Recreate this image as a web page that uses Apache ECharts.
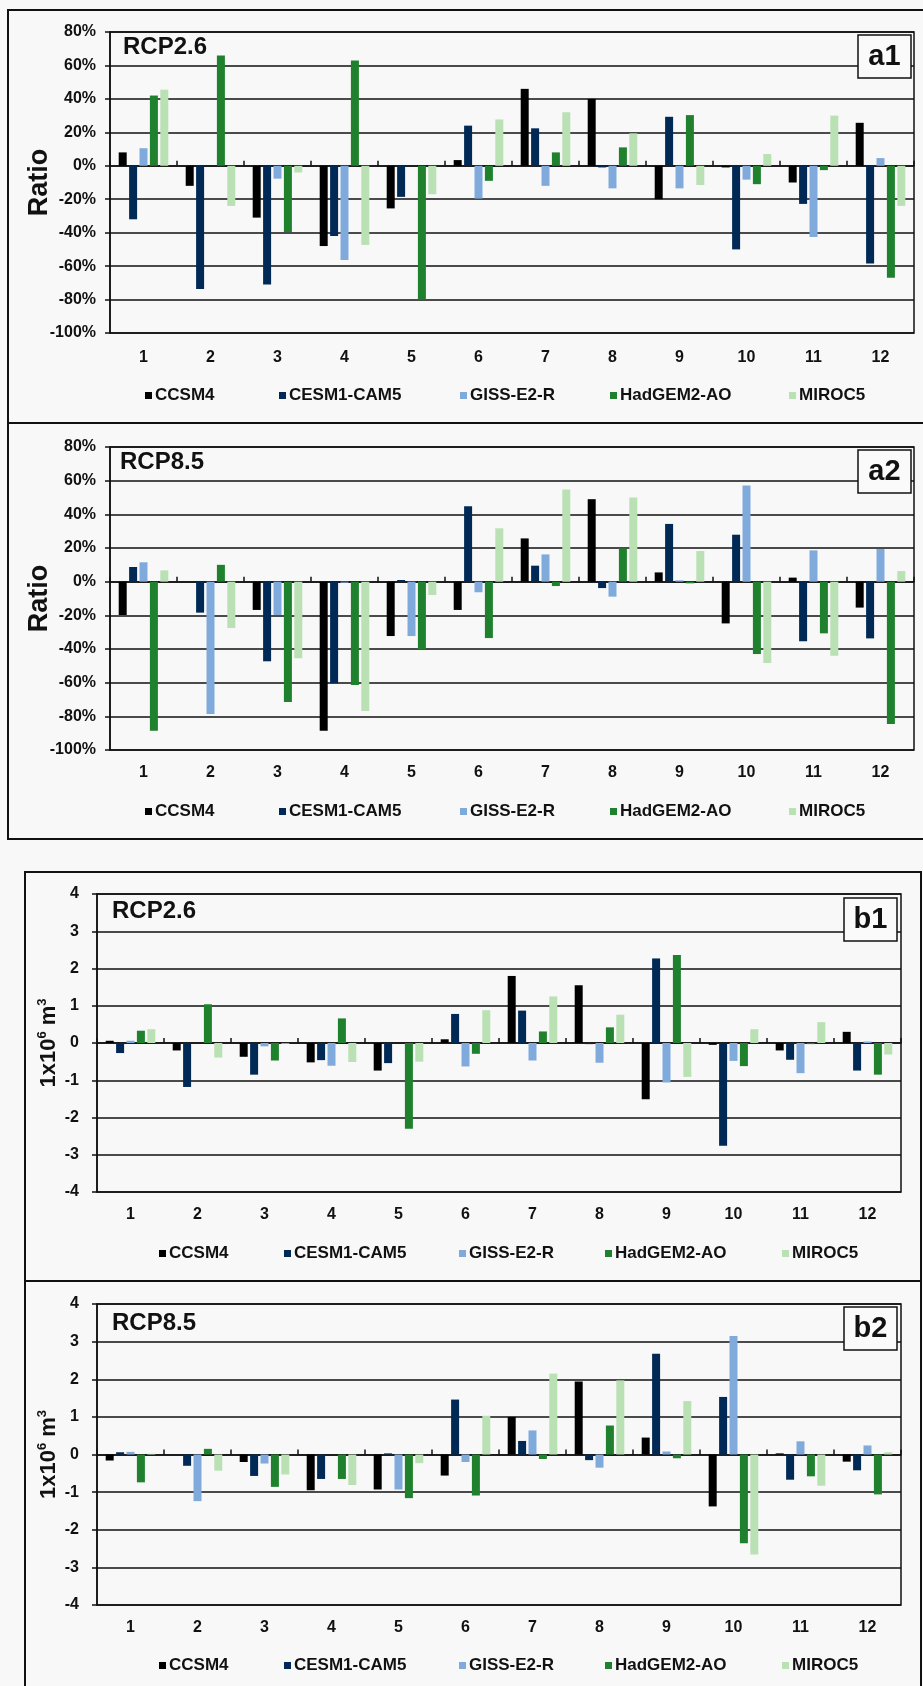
<!DOCTYPE html>
<html>
<head>
<meta charset="utf-8">
<script src="https://cdn.jsdelivr.net/npm/echarts@6/dist/echarts.min.js"></script>
<style>
html,body{margin:0;padding:0;background:#f8f8f8;}
#chart{width:923px;height:1686px;}
</style>
</head>
<body>
<div id="chart"></div>
<script>
// ---------- data ----------
var months = ['1','2','3','4','5','6','7','8','9','10','11','12'];
var models = ['CCSM4','CESM1-CAM5','GISS-E2-R','HadGEM2-AO','MIROC5'];
var panelTitles = ['RCP2.6','RCP8.5','RCP2.6','RCP8.5'];
var panelTags = ['a1','a2','b1','b2'];
var ratioTicks = [-100, 80, 20];   // min, max, step (%)
var volumeTicks = [-4, 4, 1];      // min, max, step (1x10^6 m3)

// a1: RCP2.6 ratio (%)
var a1_CCSM4   = [8, -12, -31, -48, -25.5, 3.4, 46, 40, -20, -1, -10, 25.7];
var a1_CESM    = [-32, -73.7, -71, -42, -18.6, 24, 22.4, -1, 29.3, -50, -22.8, -58.4];
var a1_GISS    = [10.5, 0, -7.7, -56.4, 0, -19.6, -12, -13.5, -13.5, -8.3, -42.6, 4.6];
var a1_HadGEM  = [42, 66, -39.6, 63, -80, -9, 8, 11, 30.3, -11, -2.6, -67];
var a1_MIROC   = [45.5, -24, -4, -47.3, -17, 27.7, 32, 19.4, -11.5, 7, 30, -24];

// a2: RCP8.5 ratio (%)
var a2_CCSM4   = [-19.8, 0, -16.8, -88.5, -32.3, -16.8, 25.7, 49, 5.5, -24.8, 2.4, -15.4];
var a2_CESM    = [8.7, -18.4, -47.3, -60.4, 1, 44.8, 9.5, -3.8, 34.3, 27.9, -35.4, -33.7];
var a2_GISS    = [11.5, -78.6, -19.8, -0.6, -32.3, -6.3, 16.2, -8.9, 0.8, 57.2, 18.6, 19.4];
var a2_HadGEM  = [-88.5, 10, -71.5, -61.4, -40.2, -33.5, -2.6, 19.8, -1, -43, -30.7, -84.5];
var a2_MIROC   = [6.7, -27.5, -45.5, -76.8, -7.9, 31.7, 54.8, 50, 18.2, -48.3, -44, 6.3];

// b1: RCP2.6 volume (1x10^6 m3)
var b1_CCSM4   = [0.06, -0.2, -0.37, -0.52, -0.74, 0.1, 1.8, 1.55, -1.51, -0.05, -0.2, 0.3];
var b1_CESM    = [-0.27, -1.18, -0.85, -0.46, -0.54, 0.78, 0.87, -0.03, 2.27, -2.76, -0.45, -0.74];
var b1_GISS    = [0.06, 0, -0.09, -0.61, 0, -0.63, -0.47, -0.53, -1.06, -0.48, -0.81, 0.04];
var b1_HadGEM  = [0.33, 1.04, -0.47, 0.66, -2.3, -0.29, 0.31, 0.42, 2.36, -0.62, -0.03, -0.85];
var b1_MIROC   = [0.37, -0.39, -0.02, -0.51, -0.5, 0.88, 1.25, 0.76, -0.91, 0.37, 0.56, -0.31];

// b2: RCP8.5 volume (1x10^6 m3)
var b2_CCSM4   = [-0.16, 0, -0.2, -0.95, -0.93, -0.56, 1.0, 1.94, 0.45, -1.38, 0.03, -0.19];
var b2_CESM    = [0.06, -0.3, -0.57, -0.65, 0.03, 1.46, 0.36, -0.15, 2.68, 1.53, -0.67, -0.42];
var b2_GISS    = [0.07, -1.24, -0.24, 0, -0.93, -0.2, 0.64, -0.35, 0.08, 3.15, 0.35, 0.24];
var b2_HadGEM  = [-0.74, 0.15, -0.86, -0.65, -1.16, -1.09, -0.12, 0.77, -0.1, -2.36, -0.58, -1.06];
var b2_MIROC   = [0.02, -0.43, -0.53, -0.81, -0.23, 1.03, 2.15, 1.97, 1.42, -2.66, -0.83, 0.06];

var panelData = [
  [a1_CCSM4, a1_CESM, a1_GISS, a1_HadGEM, a1_MIROC],
  [a2_CCSM4, a2_CESM, a2_GISS, a2_HadGEM, a2_MIROC],
  [b1_CCSM4, b1_CESM, b1_GISS, b1_HadGEM, b1_MIROC],
  [b2_CCSM4, b2_CESM, b2_GISS, b2_HadGEM, b2_MIROC]
];

// ---------- styles / layout ----------
var colors = ['#000000', '#002a55', '#80aadc', '#1f802d', '#b9e1b4'];
var FONT = '"Liberation Sans", Arial, sans-serif';
var grids = [
  {left:110, top:32,   width:804, height:301},
  {left:110, top:447,  width:804, height:303},
  {left:97,  top:894,  width:804, height:298},
  {left:97,  top:1304, width:804, height:301}
];
var legendY = [397, 813, 1255, 1667];
var legendX = [
  [145, 279, 460, 610, 789],
  [145, 279, 460, 610, 789],
  [159, 284, 459, 605, 782],
  [159, 284, 459, 605, 782]
];
var titlePos = [[123, 49], [120, 464], [112, 913], [112, 1325]];
var tagBox = [[858, 35], [858, 450], [844, 898], [844, 1307]];

var option = {
  animation: false,
  backgroundColor: '#f8f8f8',
  textStyle: {fontFamily: FONT},
  grid: [], xAxis: [], yAxis: [], series: [], legend: [], graphic: []
};

// panel frames
option.graphic.push(
  {type:'rect', z:-10, shape:{x:8, y:10, width:940, height:413}, style:{fill:'#f8f8f8', stroke:'#111', lineWidth:2}},
  {type:'rect', z:-10, shape:{x:8, y:423, width:940, height:416}, style:{fill:'#f8f8f8', stroke:'#111', lineWidth:2}},
  {type:'rect', z:-10, shape:{x:25, y:872, width:896, height:409}, style:{fill:'#f8f8f8', stroke:'#111', lineWidth:2}},
  {type:'rect', z:-10, shape:{x:25, y:1281, width:896, height:460}, style:{fill:'#f8f8f8', stroke:'#111', lineWidth:2}}
);

for (var p = 0; p < 4; p++) {
  var isRatio = p < 2;
  var ticks = isRatio ? ratioTicks : volumeTicks;
  var g = grids[p];
  option.grid.push({left:g.left, top:g.top, width:g.width, height:g.height,
    show:true, borderColor:'#111', borderWidth:1.5, backgroundColor:'transparent', containLabel:false});

  // label axis at bottom
  option.xAxis.push({type:'category', gridIndex:p, data:months, position:'bottom',
    axisLine:{show:false, onZero:false}, axisTick:{show:false},
    axisLabel:{fontSize:16, fontWeight:'bold', color:'#111', margin: p === 0 ? 17 : 15, fontFamily:FONT},
    splitLine:{show:false}});
  // zero-line axis with small upward ticks
  option.xAxis.push({type:'category', gridIndex:p, data:months, position:'top',
    axisLine:{show:true, onZero:true, lineStyle:{color:'#111', width:1.5}},
    axisTick:{show:true, inside:false, length:5, lineStyle:{color:'#111', width:1.5}},
    axisLabel:{show:false}, splitLine:{show:false}});

  var yName, nameStyle, nameGap;
  if (isRatio) {
    yName = 'Ratio';
    nameStyle = {fontSize:27, fontWeight:'bold', color:'#111', fontFamily:FONT};
    nameGap = 57;
  } else {
    yName = '{a|1x10}{s|6}{a| m}{s|3}';
    nameStyle = {rich:{
      a:{fontSize:22, fontWeight:'bold', color:'#111', fontFamily:FONT, lineHeight:26},
      s:{fontSize:13, fontWeight:'bold', color:'#111', fontFamily:FONT, verticalAlign:'top', lineHeight:26, padding:[0,0,8,0]}
    }};
    nameGap = 35;
  }
  option.yAxis.push({type:'value', gridIndex:p, min:ticks[0], max:ticks[1], interval:ticks[2],
    position:'left', name:yName, nameLocation:'middle', nameGap:nameGap, nameTextStyle:nameStyle,
    nameMoveOverlap:false,
    axisLine:{show:true, lineStyle:{color:'#111', width:1.5}},
    axisTick:{show:true, length:5, lineStyle:{color:'#111', width:1.5}},
    axisLabel:{fontSize:16, fontWeight:'bold', color:'#111', margin: isRatio ? 14 : 18, fontFamily:FONT,
      formatter: isRatio ? '{value}%' : '{value}'},
    splitLine:{show:true, lineStyle:{color:'#111', width:1.5}}});

  for (var i = 0; i < 5; i++) {
    option.series.push({type:'bar', name:models[i], xAxisIndex:2*p, yAxisIndex:p,
      data:panelData[p][i], barWidth:8, barGap:'30%',
      itemStyle:{color:colors[i]}});
    option.legend.push({data:[models[i]], left:legendX[p][i], top:legendY[p]-10,
      icon:'rect', itemWidth:7, itemHeight:7, itemGap:0, selectedMode:false,
      padding:0,
      textStyle:{fontSize:17, fontWeight:'bold', color:'#111', fontFamily:FONT, padding:[0,0,0,-2]}});
  }

  option.graphic.push({type:'text', z:100, left:titlePos[p][0], top:titlePos[p][1]-14,
    style:{text:panelTitles[p], font:'bold 24px ' + FONT, fill:'#111'}});
  option.graphic.push({type:'rect', z:100, shape:{x:tagBox[p][0], y:tagBox[p][1], width:53, height:43},
    style:{fill:'#fafafa', stroke:'#111', lineWidth:1.5}});
  option.graphic.push({type:'text', z:101, x:tagBox[p][0] + 26.5, y:tagBox[p][1] + 22,
    style:{text:panelTags[p], font:'bold 29px ' + FONT, fill:'#111', textAlign:'center', textVerticalAlign:'middle'}});
}

var chart = echarts.init(document.getElementById('chart'), null, {renderer:'canvas'});
chart.setOption(option);
</script>
</body>
</html>
